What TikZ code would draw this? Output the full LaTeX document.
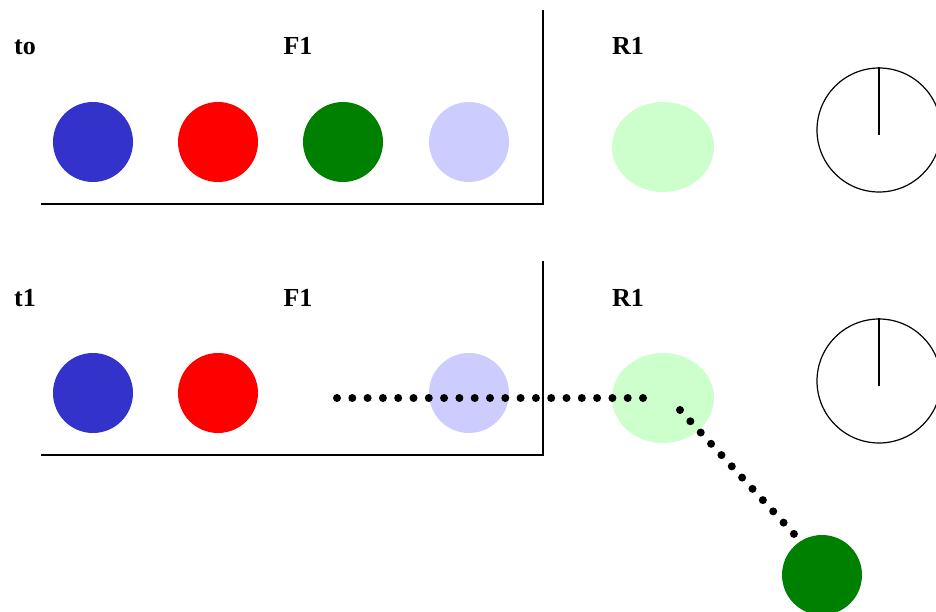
\documentclass[tikz,border=0pt]{standalone}
\usepackage{fontspec}
\setmainfont{Liberation Serif}
\usetikzlibrary{shapes.geometric,positioning}
\definecolor{ballblue}{HTML}{3333CC}
\definecolor{ballred}{HTML}{FF0000}
\definecolor{ballgreen}{HTML}{008000}
\definecolor{ballpale}{HTML}{CCCCFF}
\definecolor{slotgreen}{HTML}{CCFFCC}
\begin{document}
\begin{tikzpicture}[x=1pt,y=-1pt,
    lbl/.style={font=\fontsize{26}{30}\selectfont\bfseries, anchor=base, inner sep=0pt},
    ball/.style={circle, minimum size=80pt, inner sep=0pt, fill=#1},
    slot/.style={ellipse, minimum width=102pt, minimum height=90pt, inner sep=0pt, fill=slotgreen},
    clock/.style={circle, draw, line width=1.2pt, minimum size=124pt, inner sep=0pt},
    frame/.style={line width=1.2pt},
    dotline/.style={line width=8pt, line cap=round, dash pattern=on 0pt off 15.3pt}]
  \useasboundingbox (0,0) rectangle (936,612);

  %% Labels and frames of both rows
  \foreach \dy/\t in {0/to, 251/t1}{
    \node[lbl, anchor=base west] (time\dy) at (14,55+\dy) {\t};
    \node[lbl] (fifo\dy) at (298,55+\dy) {F1};
    \node[lbl] (reg\dy)  at (628,55+\dy) {R1};
    \draw[frame] (543,10+\dy) -- (543,204+\dy) -- (41,204+\dy);
  }

  %% ── Row t0 ──────────────────────────────
  \node[ball=ballblue]  (a0) at (93,142)  {};
  \node[ball=ballred]   (b0) at (218,142) {};
  \node[ball=ballgreen] (c0) at (343,142) {};
  \node[ball=ballpale]  (d0) at (469,142) {};
  \node[slot]           (r0) at (663,147) {};
  \node[clock]          (k0) at (879,130) {};
  \draw[line width=1.2pt] (k0.north) -- ++(0,68);

  %% ── Row t1 ──────────────────────────────
  \node[ball=ballblue]  (a1) at (93,393)  {};
  \node[ball=ballred]   (b1) at (218,393) {};
  \node[ball=ballpale]  (d1) at (469,393) {};
  \node[slot]           (r1) at (663,398) {};
  \node[clock]          (k1) at (879,381) {};
  \draw[line width=1.2pt] (k1.north) -- ++(0,68);
  \node[ball=ballgreen] (out) at (822,575) {};

  %% Path of the moved ball
  \coordinate (p0) at (337,398);
  \coordinate (p1) at (643.4,398);
  \coordinate (p2) at (680,410);
  \coordinate (p3) at (794.2,534.2);
  \draw[dotline] (p0) -- (p1);
  \draw[dotline] (p2) -- (p3);
\end{tikzpicture}
\end{document}
